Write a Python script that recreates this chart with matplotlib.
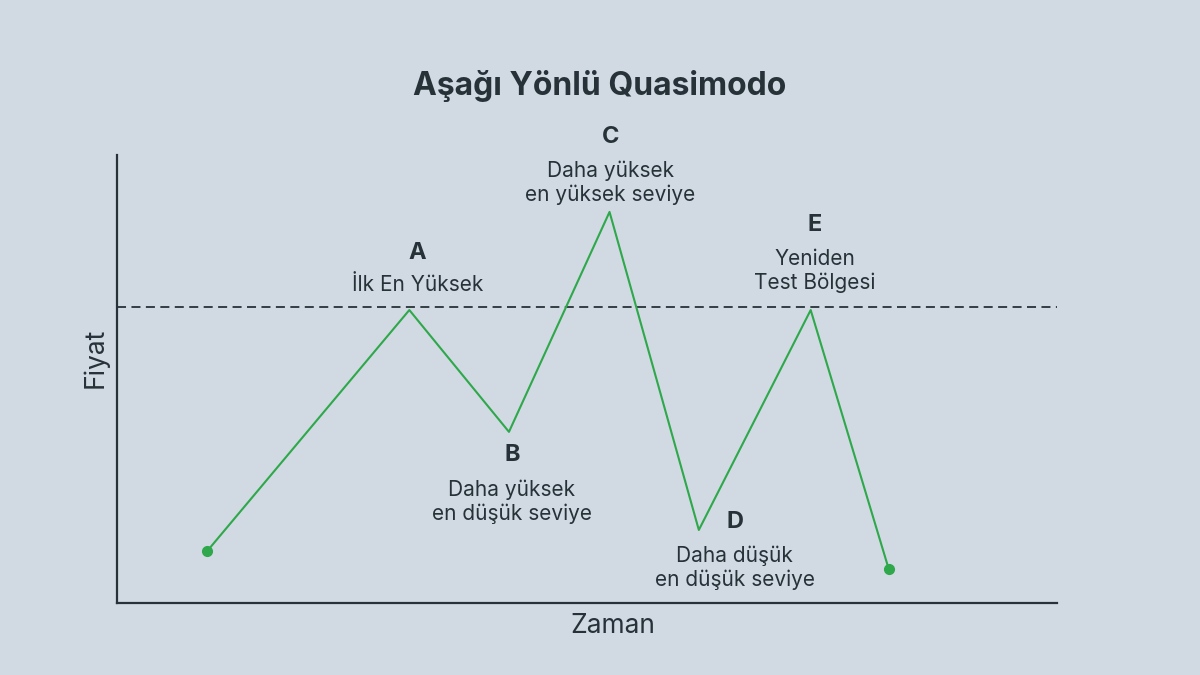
import matplotlib
matplotlib.use("Agg")
import matplotlib.pyplot as plt

plt.rcParams['font.family'] = ['Inter', 'DejaVu Sans']

# pattern vertices (time, price)
times = [0.96, 3.11, 4.17, 5.24, 6.19, 7.38, 8.21]
prices = [1.16, 6.54, 3.82, 8.73, 1.63, 6.54, 0.76]
retest_level = 6.6

letters = ["A", "B", "C", "D", "E"]
notes = ["İlk En Yüksek",
         "Daha yüksek\nen düşük seviye",
         "Daha yüksek\nen yüksek seviye",
         "Daha düşük\nen düşük seviye",
         "Yeniden\nTest Bölgesi"]

bg = "#d1dae3"
ink = "#263238"
green = "#2ea84a"

fig = plt.figure(figsize=(12, 6.75), dpi=100, facecolor=bg)
ax = fig.add_axes([0.0975, 0.1067, 0.7833, 0.6636], facecolor=bg)

ax.plot(times, prices, color=green, lw=1.5, zorder=3)
ax.plot([times[0], times[-1]], [prices[0], prices[-1]], 'o', color=green, ms=7, zorder=4)
ax.axhline(retest_level, color=ink, lw=1.3, ls=(0, (5, 3)), zorder=2)

ax.set_xlim(0, 10)
ax.set_ylim(0, 10)
ax.set_xticks([])
ax.set_yticks([])
for s in ["top", "right"]:
    ax.spines[s].set_visible(False)
for s in ["left", "bottom"]:
    ax.spines[s].set_color(ink)
    ax.spines[s].set_linewidth(1.6)

# axis titles placed like the original
fig.text(613 / 1200, 1 - 626 / 675, "Zaman", ha="center", va="center",
         fontsize=19, color=ink)
fig.text(95 / 1200, 1 - 358 / 675, "Fiyat", ha="center", va="center",
         fontsize=19, color=ink, rotation=90)

# label offsets in pixels: (dx, letter dy, note dy)
offsets = {
    "A": (8, 57, 25),
    "B": (3, -23, -70),
    "C": (1, 75, 29),
    "D": (36, 8, -38),
    "E": (4, 85, 39),
}
for i, (let, note) in enumerate(zip(letters, notes)):
    x, y = times[i + 1], prices[i + 1]
    dx, dy, ndy = offsets[let]
    ax.annotate(let, (x, y), xytext=(dx, dy), textcoords="offset pixels",
                ha="center", va="center", fontsize=17, fontweight="bold", color=ink)
    ax.annotate(note, (x, y), xytext=(dx, ndy), textcoords="offset pixels",
                ha="center", va="center", fontsize=15, color=ink, linespacing=1.2)

fig.text(0.5, 1 - 86 / 675, "Aşağı Yönlü Quasimodo", ha="center", va="center",
         fontsize=23, fontweight="bold", color=ink)

fig.savefig("out.png", dpi=100, facecolor=bg)
